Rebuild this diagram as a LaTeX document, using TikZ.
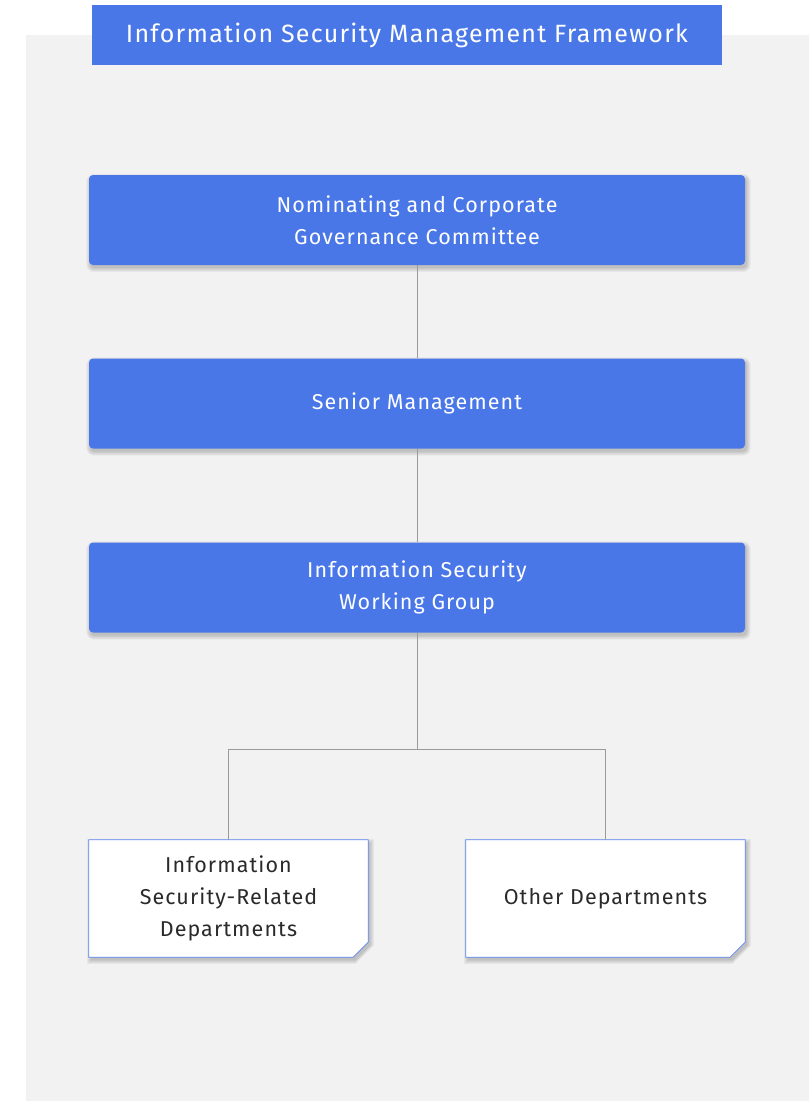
\documentclass[tikz,border=0pt]{standalone}
\usepackage{fontspec}
\setmainfont{Fira Sans}
\usetikzlibrary{calc}
\definecolor{panel}{HTML}{F2F2F2}
\definecolor{brandblue}{HTML}{4A77E8}
\definecolor{edgeblue}{HTML}{5B84F0}
\definecolor{linkgray}{HTML}{9A9A9A}
\definecolor{inktext}{HTML}{2A2A2A}
\pgfdeclarelayer{bg}
\pgfdeclarelayer{shapes}
\pgfsetlayers{bg,shapes,main}
\newcommand{\spaced}{\addfontfeatures{LetterSpace=5}}
\tikzset{
  titlebar/.style={fill=brandblue, text=white, minimum width=630pt, minimum height=60pt,
    inner sep=0pt, font=\fontsize{25}{30}\selectfont\spaced},
  levelbox/.style={fill=brandblue, text=white, rounded corners=4pt, minimum width=656pt,
    minimum height=90pt, inner sep=0pt, align=center, font=\fontsize{21.5}{32}\selectfont\spaced},
  deptbox/.style={minimum width=279pt, minimum height=117pt, inner sep=0pt, align=center,
    text=inktext, font=\fontsize{21.5}{32}\selectfont\spaced},
  deptshape/.style={fill=white, draw=edgeblue, line width=0.8pt},
  softshadow/.style={fill=black, opacity=0.045},
  link/.style={draw=linkgray, line width=1pt}
}
\begin{document}
\begin{tikzpicture}[x=1pt,y=-1pt]
\useasboundingbox (0,0) rectangle (809,1101);
% light panel behind the chart
\begin{pgfonlayer}{bg}
  \fill[white] (0,0) rectangle (809,1101);
  \fill[panel] (26,35) rectangle (809,1101);
\end{pgfonlayer}

% heading
\node[titlebar] (title) at (407,35) {Information Security Management Framework};

% governance levels
\node[levelbox] (ncgc) at (417,220) {Nominating and Corporate\\Governance Committee};
\node[levelbox] (senior) at (417,403.5) {Senior Management};
\node[levelbox] (iswg) at (417,587.5) {Information Security\\Working Group};

% departments
\node[deptbox] (isrd) at (228.5,898.5) {Information\\Security-Related\\Departments};
\node[deptbox] (other) at (605.5,898.5) {Other Departments};

\begin{pgfonlayer}{shapes}
  % soft drop shadows under the level boxes
  \foreach \n in {ncgc,senior,iswg}{
    \foreach \s in {0,1,2,3,4}{
      \fill[softshadow, rounded corners=4pt+\s pt]
        ($(\n.north west)+(1.5-\s,3-\s)$) rectangle ($(\n.south east)+(1.5+\s,3+\s)$);
    }
  }
  % soft drop shadows following the folded corner
  \foreach \n in {isrd,other}{
    \foreach \s in {0,1,2,3,4}{
      \fill[softshadow]
        ($(\n.north west)+(2-\s,3-\s)$) -- ($(\n.north east)+(2+\s,3-\s)$)
        -- ($(\n.south east)+(2+\s,-12)$) -- ($(\n.south east)+(-13,3+\s)$)
        -- ($(\n.south west)+(2-\s,3+\s)$) -- cycle;
    }
  }
  % folded-corner outlines behind the department labels
  \foreach \n in {isrd,other}{
    \path[deptshape] (\n.north west) -- (\n.north east)
      -- ($(\n.south east)+(0,-15)$) -- ($(\n.south east)+(-15,0)$)
      -- (\n.south west) -- cycle;
  }
\end{pgfonlayer}

% reporting lines
\coordinate (split) at (417,749);
\draw[link] (ncgc.south) -- (senior.north);
\draw[link] (senior.south) -- (iswg.north);
\draw[link] (iswg.south) -- (split);
\draw[link] (split) -| (isrd.north);
\draw[link] (split) -| (other.north);
\end{tikzpicture}
\end{document}
